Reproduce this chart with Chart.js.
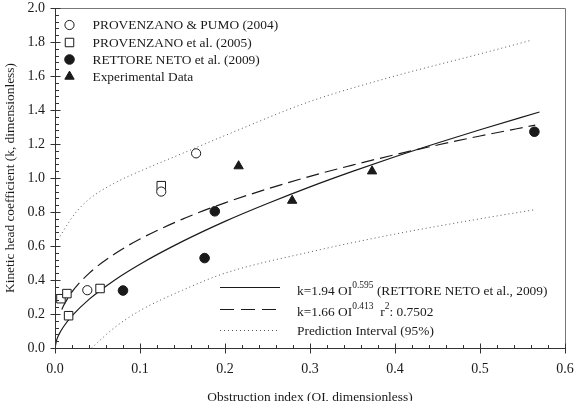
<!DOCTYPE html>
<html>
<head>
<meta charset="utf-8">
<script src="https://cdn.jsdelivr.net/npm/chart.js@4/dist/chart.umd.min.js"></script>
<style>
html,body{margin:0;padding:0;background:#fff;}
#wrap{width:576px;height:401px;position:relative;}
</style>
</head>
<body>
<div id="wrap"><canvas id="c" width="576" height="401"></canvas></div>
<script>
// ---- data ----
const provPumoOI = [0.038, 0.125, 0.166];
const provPumoK  = [0.34, 0.92, 1.145];
const prov2005OI = [0.007, 0.014, 0.016, 0.053, 0.125];
const prov2005K  = [0.29, 0.32, 0.19, 0.35, 0.955];
const rettoreOI  = [0.080, 0.176, 0.188, 0.564];
const rettoreK   = [0.338, 0.529, 0.804, 1.272];
const expOI      = [0.216, 0.279, 0.373];
const expK       = [1.07, 0.867, 1.04];

// solid curve k=1.94 OI^0.595
const fitOI = [0, 0.002, 0.005, 0.01, 0.02, 0.04, 0.07, 0.1, 0.15, 0.2, 0.25, 0.3, 0.35, 0.4, 0.45, 0.5, 0.57];
const fitK  = [0, 0.048, 0.083, 0.125, 0.189, 0.286, 0.399, 0.493, 0.627, 0.745, 0.850, 0.948, 1.039, 1.125, 1.206, 1.284, 1.388];
// dashed curve k=1.66 OI^0.413
const regOI = [0.008, 0.01, 0.02, 0.04, 0.07, 0.1, 0.15, 0.2, 0.25, 0.3, 0.35, 0.4, 0.45, 0.5, 0.565];
const regK  = [0.226, 0.248, 0.330, 0.439, 0.553, 0.641, 0.758, 0.854, 0.936, 1.010, 1.076, 1.137, 1.194, 1.247, 1.311];
// prediction interval (95%)
const upOI = [0.006, 0.015, 0.025, 0.04, 0.07, 0.1, 0.15, 0.2, 0.3, 0.4, 0.5, 0.561];
const upK  = [0.657, 0.73, 0.80, 0.875, 0.97, 1.04, 1.145, 1.25, 1.45, 1.60, 1.73, 1.811];
const loOI = [0.043, 0.07, 0.1, 0.15, 0.2, 0.3, 0.4, 0.5, 0.565];
const loK  = [0, 0.12, 0.22, 0.34, 0.44, 0.565, 0.67, 0.76, 0.814];

const xTickLabels = ["0.0", "0.1", "0.2", "0.3", "0.4", "0.5", "0.6"];
const yTickLabels = ["0.0", "0.2", "0.4", "0.6", "0.8", "1.0", "1.2", "1.4", "1.6", "1.8", "2.0"];

const seriesNames = ["PROVENZANO & PUMO (2004)", "PROVENZANO et al. (2005)", "RETTORE NETO et al. (2009)", "Experimental Data"];
const xTitle = "Obstruction index (OI, dimensionless)";
const yTitle = "Kinetic head coefficient (k, dimensionless)";

const pts = (xs, ys) => xs.map((x, i) => ({x: x, y: ys[i]}));
const FONT = "'Liberation Serif', 'Times New Roman', serif";
const INK = '#1a1a1a';

const markerStyles = [
  {pointStyle: 'circle', radius: 4.6, backgroundColor: '#fff', borderColor: INK, borderWidth: 1},
  {pointStyle: 'rect', radius: 6, backgroundColor: '#fff', borderColor: INK, borderWidth: 1},
  {pointStyle: 'circle', radius: 4.8, backgroundColor: INK, borderColor: INK, borderWidth: 1},
  {pointStyle: 'triangle', radius: 5.4, backgroundColor: INK, borderColor: INK, borderWidth: 1}
];
const markerData = [pts(provPumoOI, provPumoK), pts(prov2005OI, prov2005K), pts(rettoreOI, rettoreK), pts(expOI, expK)];

const lineDs = (data, dash, color, width) => ({
  type: 'scatter', data: data, showLine: true, pointRadius: 0, pointHoverRadius: 0,
  borderColor: color, borderWidth: width, borderDash: dash, fill: false,
  cubicInterpolationMode: 'monotone', order: 5
});

const datasets = [
  lineDs(pts(upOI, upK), [1, 3], '#555', 1),
  lineDs(pts(loOI, loK), [1, 3], '#555', 1),
  lineDs(pts(fitOI, fitK), [], INK, 1.2),
  lineDs(pts(regOI, regK), [13, 6], INK, 1.2)
];
markerData.forEach((d, i) => {
  const s = markerStyles[i];
  datasets.push({
    type: 'scatter', label: seriesNames[i], data: d,
    pointStyle: s.pointStyle, pointRadius: s.radius, pointHoverRadius: s.radius,
    pointBackgroundColor: s.backgroundColor, pointBorderColor: s.borderColor,
    pointBorderWidth: s.borderWidth, showLine: false, order: 1
  });
});

const framePlugin = {
  id: 'frame',
  afterDatasetsDraw(chart) {
    const ctx = chart.ctx;
    const a = chart.chartArea;
    const xs = chart.scales.x, ys = chart.scales.y;
    ctx.save();
    ctx.lineWidth = 1;
    ctx.strokeStyle = '#777';
    ctx.beginPath();
    ctx.moveTo(Math.round(a.left) + 0.5, Math.round(a.top) + 0.5);
    ctx.lineTo(Math.round(a.right) + 0.5, Math.round(a.top) + 0.5);
    ctx.lineTo(Math.round(a.right) + 0.5, Math.round(a.bottom) + 0.5);
    ctx.stroke();
    ctx.strokeStyle = '#333';
    ctx.beginPath();
    ctx.moveTo(Math.round(a.left) + 0.5, Math.round(a.top) + 0.5);
    ctx.lineTo(Math.round(a.left) + 0.5, Math.round(a.bottom) + 0.5);
    ctx.lineTo(Math.round(a.right) + 0.5, Math.round(a.bottom) + 0.5);
    ctx.stroke();
    const by = Math.round(a.bottom) + 0.5;
    ctx.beginPath();
    for (let i = 0; i <= 30; i++) {
      const px = Math.round(xs.getPixelForValue(i * 0.02)) + 0.5;
      if (i % 5 === 0) { ctx.moveTo(px, by - 5); ctx.lineTo(px, by + 5); }
      else { ctx.moveTo(px, by); ctx.lineTo(px, by - 3.5); }
    }
    const lx = Math.round(a.left) + 0.5;
    for (let i = 0; i <= 50; i++) {
      const py = Math.round(ys.getPixelForValue(i * 0.04)) + 0.5;
      if (i % 5 === 0) { ctx.moveTo(lx - 5, py); ctx.lineTo(lx + 5, py); }
      else { ctx.moveTo(lx, py); ctx.lineTo(lx + 3.5, py); }
    }
    ctx.stroke();
    ctx.restore();
  },
  afterDraw(chart) {
    const ctx = chart.ctx;
    ctx.save();
    ctx.fillStyle = INK;
    ctx.font = '13.4px ' + FONT;
    ctx.textBaseline = 'middle';
    ctx.textAlign = 'left';
    const rowY = [25, 42.5, 59.5, 76.5];
    markerStyles.forEach((s, i) => {
      ctx.fillStyle = s.backgroundColor;
      ctx.strokeStyle = s.borderColor;
      ctx.lineWidth = s.borderWidth;
      Chart.helpers.drawPoint(ctx, {pointStyle: s.pointStyle, radius: s.radius, borderWidth: s.borderWidth, rotation: 0}, 69.5, rowY[i]);
      ctx.fillStyle = INK;
      ctx.fillText(seriesNames[i], 92.5, rowY[i] + 0.5);
    });
    const lx0 = 220, lx1 = 280, tx = 297;
    const lines = [
      {y: 287, dash: [], color: INK, w: 1.2},
      {y: 309, dash: [14, 7], color: INK, w: 1.2},
      {y: 330, dash: [1, 3], color: '#555', w: 1}
    ];
    lines.forEach(l => {
      ctx.beginPath();
      ctx.setLineDash(l.dash);
      ctx.strokeStyle = l.color;
      ctx.lineWidth = l.w;
      ctx.moveTo(lx0, l.y + 0.5);
      ctx.lineTo(lx1, l.y + 0.5);
      ctx.stroke();
    });
    ctx.setLineDash([]);
    const drawRich = (parts, x, y) => {
      parts.forEach(p => {
        ctx.font = (p.sup ? '9.5px ' : '13.4px ') + FONT;
        ctx.fillText(p.t, x, p.sup ? y - 6 : y);
        x += ctx.measureText(p.t).width;
      });
    };
    ctx.fillStyle = INK;
    drawRich([{t: 'k=1.94 OI'}, {t: '0.595', sup: true}, {t: ' (RETTORE NETO et al., 2009)'}], tx, 291);
    drawRich([{t: 'k=1.66 OI'}, {t: '0.413', sup: true}, {t: '  r'}, {t: '2', sup: true}, {t: ': 0.7502'}], tx, 312);
    drawRich([{t: 'Prediction Interval (95%)'}], tx, 331);
    ctx.restore();
  }
};

const zeroPad = s => { s.paddingLeft = 0; s.paddingRight = 0; s.paddingTop = 0; s.paddingBottom = 0; };

new Chart(document.getElementById('c'), {
  type: 'scatter',
  data: {datasets: datasets},
  options: {
    responsive: false,
    animation: false,
    events: [],
    layout: {padding: {left: 0, right: 11, top: 8, bottom: 0}},
    plugins: {legend: {display: false}, tooltip: {enabled: false}},
    scales: {
      x: {
        type: 'linear', min: 0, max: 0.6,
        grid: {display: false, drawTicks: false},
        border: {display: false},
        ticks: {
          stepSize: 0.1, padding: 13, color: INK, maxRotation: 0,
          font: {family: FONT, size: 14},
          callback: (v, i) => xTickLabels[Math.round(v * 10)]
        },
        title: {display: true, text: xTitle, color: INK, font: {family: FONT, size: 13.4, lineHeight: 1}, padding: {top: 0, bottom: -3}},
        afterFit: s => { s.height = 53; zeroPad(s); }
      },
      y: {
        type: 'linear', min: 0, max: 2,
        grid: {display: false, drawTicks: false},
        border: {display: false},
        ticks: {
          stepSize: 0.2, padding: 10, color: INK,
          font: {family: FONT, size: 14},
          callback: (v, i) => yTickLabels[Math.round(v * 5)]
        },
        title: {display: true, text: yTitle, color: INK, font: {family: FONT, size: 13.4, lineHeight: 1}, padding: {top: 4, bottom: 0}},
        afterFit: s => { s.width = 55; zeroPad(s); }
      }
    }
  },
  plugins: [framePlugin]
});
</script>
</body>
</html>
